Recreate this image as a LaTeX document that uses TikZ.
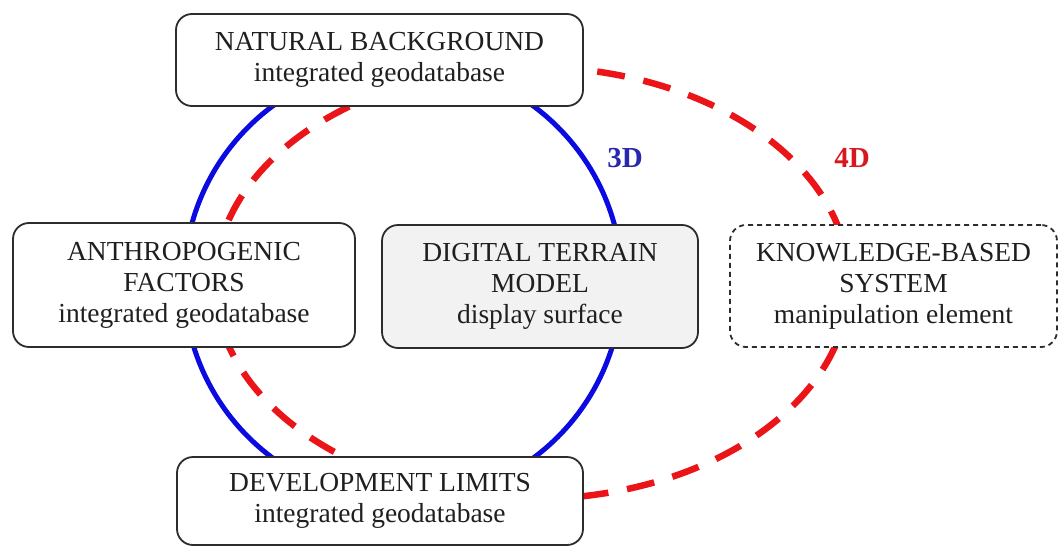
\documentclass[tikz,border=0pt]{standalone}
\usepackage{fontspec}
\setmainfont{Liberation Serif}
\definecolor{ringblue}{RGB}{10,10,225}
\definecolor{ringred}{RGB}{235,20,25}
\definecolor{lbl3d}{RGB}{40,40,175}
\definecolor{lbl4d}{RGB}{215,25,30}
\definecolor{boxline}{RGB}{45,45,45}
\definecolor{dtmfill}{RGB}{242,242,242}
\tikzset{
  blueline/.style={draw=ringblue, line width=5pt},
  redline/.style={draw=ringred, line width=6.5pt, dash pattern=on 28pt off 19pt},
  infobox/.style={draw=boxline, line width=1.8pt, rounded corners=16pt, fill=white,
    align=center, inner sep=0pt, text=black!88,
    font=\fontsize{27.5}{31}\selectfont},
  dashbox/.style={infobox, dash pattern=on 5pt off 4pt},
  dimlabel/.style={font=\fontsize{29}{31}\selectfont\bfseries, inner sep=0pt}
}
\begin{document}
\begin{tikzpicture}[x=1pt,y=-1pt]
\useasboundingbox (0,0) rectangle (1060,546);
% rings
\draw[blueline] (403,282) circle [radius=219pt];
\draw[redline] (532,283) ellipse [x radius=317pt, y radius=216pt];
% boxes
\node[infobox, minimum width=407pt, minimum height=92pt] (nat) at (379.5,60)
  {NATURAL BACKGROUND\\integrated geodatabase};
\node[infobox, minimum width=342pt, minimum height=124pt] (anth) at (184,285)
  {ANTHROPOGENIC\\FACTORS\\integrated geodatabase};
\node[infobox, fill=dtmfill, minimum width=316pt, minimum height=123pt] (dtm) at (540,286.5)
  {DIGITAL TERRAIN\\MODEL\\display surface};
\node[dashbox, minimum width=327pt, minimum height=122pt] (kbs) at (893.5,286)
  {KNOWLEDGE-BASED\\SYSTEM\\manipulation element};
\node[infobox, minimum width=406pt, minimum height=88pt] (dev) at (380,501)
  {DEVELOPMENT LIMITS\\integrated geodatabase};
% labels
\node[dimlabel, text=lbl3d] (l3) at (625,158) {3D};
\node[dimlabel, text=lbl4d] (l4) at (852,158) {4D};
\end{tikzpicture}
\end{document}
